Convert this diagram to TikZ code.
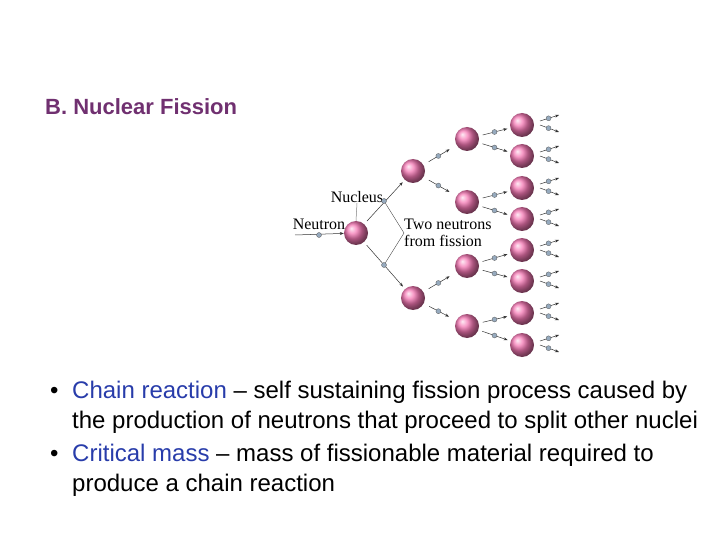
\documentclass[tikz,border=0pt]{standalone}
\usepackage{fontspec}
\setmainfont{Liberation Sans}
\newfontfamily\serifd{Liberation Serif}
\usetikzlibrary{arrows.meta,calc}
\definecolor{titlec}{RGB}{112,48,112}
\definecolor{bluec}{RGB}{40,60,170}
\definecolor{nuc}{RGB}{245,120,180}
\definecolor{neu}{RGB}{150,170,190}
\begin{document}
\begin{tikzpicture}[x=1pt,y=-1pt,
  nucl/.style={circle,minimum size=24pt,inner sep=0,shading=ball,ball color=nuc},
  neut/.style={circle,minimum size=5pt,inner sep=0,fill=neu,draw=gray!70!black,line width=0.3pt},
  arr/.style={-{Stealth[length=4pt,width=3pt]},line width=0.5pt,black!80},
  lbl/.style={font=\serifd\fontsize{16}{17}\selectfont,inner sep=0},
  txt/.style={font=\fontsize{24}{30}\selectfont,anchor=base west,inner sep=0}]
\useasboundingbox (0,0) rectangle (720,540);
\node[anchor=base west,inner sep=0,font=\bfseries\fontsize{22}{24}\selectfont,text=titlec] (title) at (45,115) {B. Nuclear Fission};
% nuclei
\node[nucl] (n0) at (356,233) {};
\node[nucl] (a1) at (413,171) {};
\node[nucl] (a2) at (413,298) {};
\foreach \i/\y in {1/139,2/202,3/266,4/326} \node[nucl] (b\i) at (467,\y) {};
\foreach \i/\y in {1/125,2/156,3/188,4/219,5/250,6/281,7/313,8/345} \node[nucl] (c\i) at (522,\y) {};
% incoming neutron
\coordinate (in) at (295,235);
\draw[arr] (in) -- (n0);
\node[neut] (nin) at (319,235) {};
\node[lbl,anchor=south] (lneu) at (319,230) {Neutron};
\node[lbl,anchor=south] (lnuc) at (357,203) {Nucleus};
\draw[gray,line width=0.5pt] (lnuc.south) -- (n0.north);
% level 0 -> 1
\draw[arr,shorten <=4pt,shorten >=3pt] (n0) -- (a1);
\draw[arr,shorten <=4pt,shorten >=3pt] (n0) -- (a2);
\node[neut] (m1) at (384,201) {};
\node[neut] (m2) at (384,265) {};
\node[lbl,anchor=west,align=left] (ltwo) at (404,233) {Two neutrons\\from fission};
\draw[black!70,line width=0.4pt] (m1) -- (ltwo.west) -- (m2);
% level 1 -> 2
\foreach \p/\i/\j in {a1/1/1,a1/2/2,a2/3/3,a2/4/4}{
  \draw[arr,shorten <=6pt,shorten >=8pt] (\p) -- (b\j);
  \path (\p) -- (b\j) node[neut,pos=0.45] (p\i) {};
}
% level 2 -> 3
\foreach \p/\i in {b1/1,b1/2,b2/3,b2/4,b3/5,b3/6,b4/7,b4/8}{
  \draw[arr,shorten <=4pt,shorten >=3pt] (\p) -- (c\i);
  \path (\p) -- (c\i) node[neut,pos=0.5] (q\i) {};
}
% outgoing from level 3
\foreach \i in {1,...,8}{
  \coordinate (su\i) at ($(c\i)+(18,-4)$);
  \coordinate (tu\i) at ($(c\i)+(37,-10)$);
  \coordinate (sd\i) at ($(c\i)+(18,0)$);
  \coordinate (td\i) at ($(c\i)+(37,7)$);
  \draw[arr] (su\i) -- (tu\i);
  \draw[arr] (sd\i) -- (td\i);
  \node[neut] (ou\i) at ($(su\i)!0.45!(tu\i)$) {};
  \node[neut] (od\i) at ($(sd\i)!0.45!(td\i)$) {};
}
% bullets
\node[txt] (b1m) at (50,398) {\textbullet};
\node[txt] (t1a) at (72,398) {\textcolor{bluec}{Chain reaction} -- self sustaining fission process caused by};
\node[txt] (t1b) at (72,428) {the production of neutrons that proceed to split other nuclei};
\node[txt] (b2m) at (50,461) {\textbullet};
\node[txt] (t2a) at (72,461) {\textcolor{bluec}{Critical mass} -- mass of fissionable material required to};
\node[txt] (t2b) at (72,491) {produce a chain reaction};
\end{tikzpicture}
\end{document}
